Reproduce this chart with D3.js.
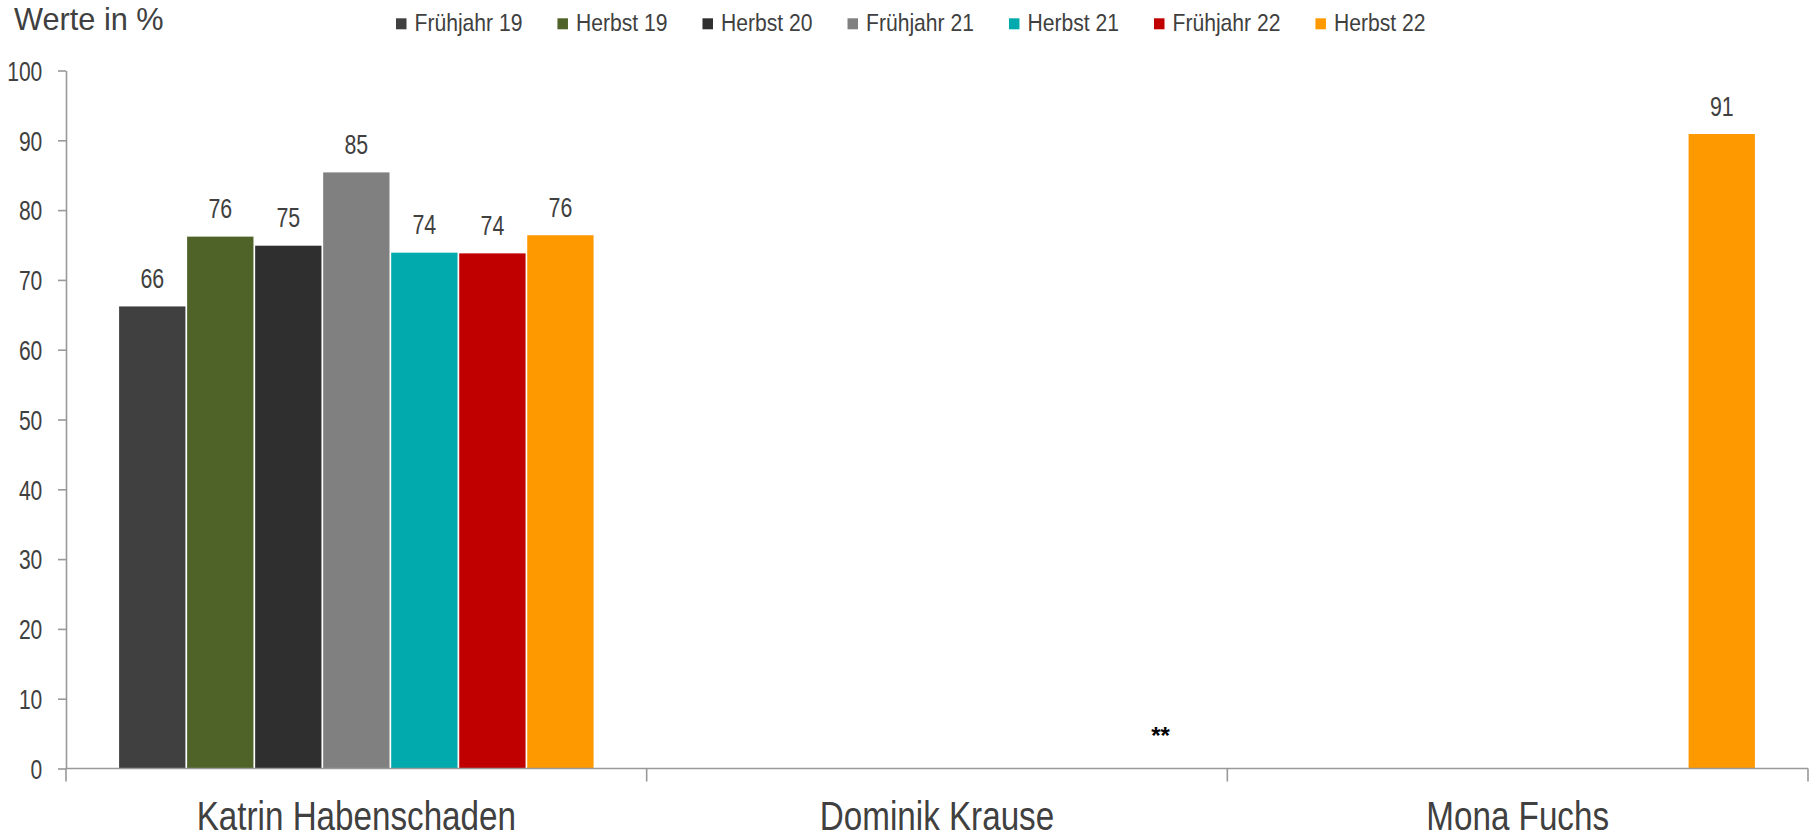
<!DOCTYPE html>
<html>
<head>
<meta charset="utf-8">
<script src="https://cdn.jsdelivr.net/npm/d3@7/dist/d3.min.js"></script>
<style>
  html, body { margin: 0; padding: 0; background: #ffffff; }
  svg { display: block; }
  text { font-family: "Liberation Sans", Arial, Helvetica, sans-serif; fill: #404040; }
</style>
</head>
<body>
<svg id="chart" width="1814" height="840"></svg>
<script>
// ---- data ----
const categories = ["Katrin Habenschaden", "Dominik Krause", "Mona Fuchs"];
const seriesNames = ["Frühjahr 19", "Herbst 19", "Herbst 20", "Frühjahr 21", "Herbst 21", "Frühjahr 22", "Herbst 22"];
const seriesColors = ["#404040", "#4f6228", "#2f2f2f", "#808080", "#00aaad", "#c00000", "#ff9900"];
const valuesKatrin = [66.2, 76.2, 74.9, 85.4, 73.9, 73.8, 76.4];
const valuesDominik = [null, null, null, null, null, null, null];
const valuesMona = [null, null, null, null, null, null, 90.9];
const yTicks = [0, 10, 20, 30, 40, 50, 60, 70, 80, 90, 100];
const yTitle = "Werte in %";
const noteText = "**";
const noteCategory = "Dominik Krause";

(function () {
const valuesByCategory = [valuesKatrin, valuesDominik, valuesMona];
const rows = [];
categories.forEach((c, ci) => {
  seriesNames.forEach((s, si) => {
    rows.push({ category: c, series: s, value: valuesByCategory[ci][si] });
  });
});

// ---- layout ----
const svg = d3.select("#chart");
const mLeft = 66, mRight = 1808, mTop = 70.5, mBottom = 768.5;

const x0 = d3.scaleBand().domain(categories).range([mLeft, mRight]).padding(0);
const x1 = d3.scaleBand().domain(seriesNames).range([0, x0.bandwidth()])
  .paddingInner(0).paddingOuter(0.768);
const y = d3.scaleLinear().domain([0, 100]).range([mBottom, mTop]);
const color = d3.scaleOrdinal().domain(seriesNames).range(seriesColors);

// ---- bars ----
const gap = 1.7;
svg.append("g").selectAll("rect")
  .data(rows.filter(d => d.value != null))
  .join("rect")
  .attr("x", d => x0(d.category) + x1(d.series) + gap / 2)
  .attr("width", x1.bandwidth() - gap)
  .attr("y", d => y(d.value))
  .attr("height", d => y(0) - y(d.value))
  .attr("fill", d => color(d.series));

// ---- value labels ----
const fmt = d3.format(".0f");
const labelSx = 0.79;
svg.append("g").selectAll("text")
  .data(rows.filter(d => d.value != null))
  .join("text")
  .attr("transform", d => `translate(${x0(d.category) + x1(d.series) + x1.bandwidth() / 2},${y(d.value) - 18.4}) scale(${labelSx},1)`)
  .attr("text-anchor", "middle")
  .style("font-size", "27px")
  .text(d => fmt(d.value));

// ---- y axis ----
const tickSx = 0.78;
const yAxis = svg.append("g")
  .attr("transform", `translate(${mLeft},0)`)
  .call(d3.axisLeft(y).tickValues(yTicks).tickSize(8).tickSizeOuter(0).tickFormat(d3.format("d")));
yAxis.select(".domain").attr("stroke", "#999999").attr("stroke-width", 1.6);
yAxis.selectAll(".tick line").attr("stroke", "#999999").attr("stroke-width", 1.6);
yAxis.selectAll(".tick text")
  .attr("x", -23.7 / tickSx)
  .attr("dy", "0.36em")
  .attr("transform", `scale(${tickSx},1)`)
  .style("font-size", "27px")
  .style("font-family", "'Liberation Sans', Arial, sans-serif")
  .attr("fill", "#404040");

// ---- x axis ----
const xAxisG = svg.append("g").attr("transform", `translate(0,${mBottom})`);
xAxisG.append("line")
  .attr("x1", mLeft).attr("x2", mRight).attr("y1", 0).attr("y2", 0)
  .attr("stroke", "#999999").attr("stroke-width", 1.6);
const boundaries = categories.map(c => x0(c)).concat([x0(categories[categories.length - 1]) + x0.bandwidth()]);
xAxisG.selectAll("line.tk")
  .data(boundaries)
  .join("line")
  .attr("class", "tk")
  .attr("x1", d => d).attr("x2", d => d)
  .attr("y1", 0).attr("y2", 13)
  .attr("stroke", "#999999").attr("stroke-width", 1.6);
const catSx = 0.81;
xAxisG.selectAll("text.cat")
  .data(categories)
  .join("text")
  .attr("class", "cat")
  .attr("transform", d => `translate(${x0(d) + x0.bandwidth() / 2},61) scale(${catSx},1)`)
  .attr("text-anchor", "middle")
  .style("font-size", "41px")
  .text(d => d);

// ---- note ----
svg.append("text")
  .attr("x", x0(noteCategory) + x0.bandwidth() * 0.885)
  .attr("y", y(0) - 25)
  .attr("text-anchor", "middle")
  .style("font-size", "24px")
  .style("font-weight", "bold")
  .style("fill", "#000000")
  .text(noteText);

// ---- title ----
svg.append("text")
  .attr("transform", `translate(14,30) scale(0.96,1)`)
  .style("font-size", "32px")
  .text(yTitle);

// ---- legend ----
const legSx = 0.88;
const legend = svg.append("g");
let lx = 396;
seriesNames.forEach((s) => {
  const g = legend.append("g");
  g.append("rect")
    .attr("x", lx).attr("y", 18.3)
    .attr("width", 10.5).attr("height", 11)
    .attr("fill", color(s));
  const t = g.append("text")
    .attr("transform", `translate(${lx + 18.5},30.7) scale(${legSx},1)`)
    .style("font-size", "24px")
    .text(s);
  const w = t.node().getComputedTextLength() * legSx;
  lx = lx + 18.5 + w + 35;
});
})();
</script>
</body>
</html>
